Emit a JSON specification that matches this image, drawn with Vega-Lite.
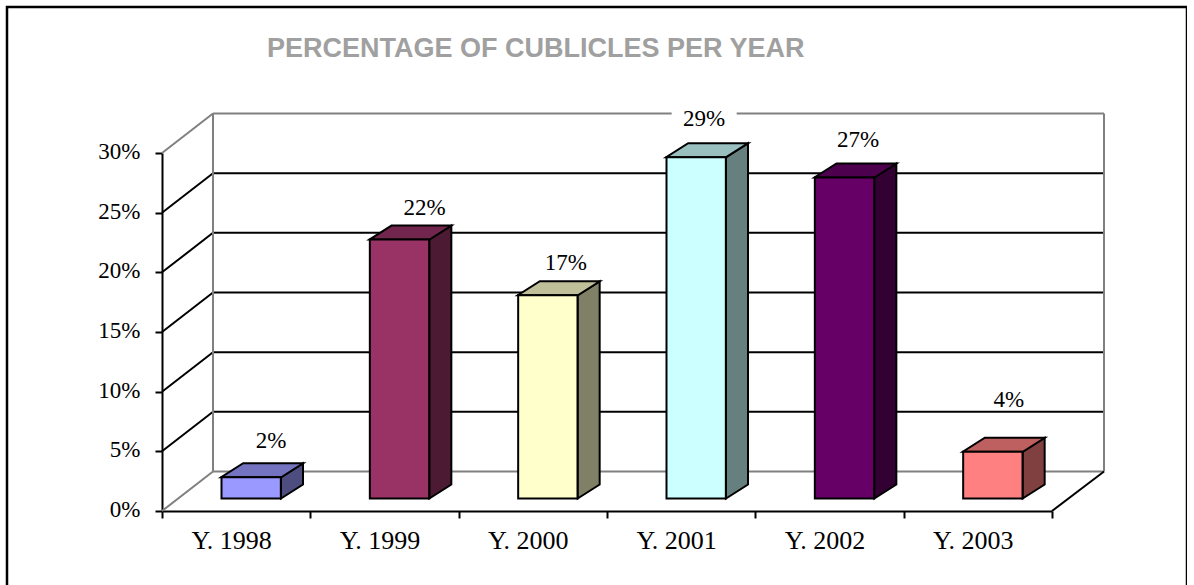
{
"$schema":"https://vega.github.io/schema/vega-lite/v6.json",
"width":1180,"height":580,
"autosize":{"type":"none"},
"padding":{"left":7,"top":7,"right":0,"bottom":0},
"background":"#ffffff",
"config":{"view":{"stroke":"#000000","strokeWidth":2.5},"font":"Liberation Serif"},
"title":{"text":"PERCENTAGE OF CUBLICLES PER YEAR","anchor":"start","frame":"group","dx":260,"offset":-69,"baseline":"middle","font":"Liberation Sans","fontSize":27,"fontWeight":"bold","color":"#A0A0A0"},
"datasets":{
"bars":[
{"year":"Y. 1998","share":0.0178,"label":0.02},
{"year":"Y. 1999","share":0.217,"label":0.22},
{"year":"Y. 2000","share":0.1703,"label":0.17},
{"year":"Y. 2001","share":0.286,"label":0.29},
{"year":"Y. 2002","share":0.269,"label":0.27},
{"year":"Y. 2003","share":0.0392,"label":0.04}],
"ticks":[{"tick":0},{"tick":0.05},{"tick":0.1},{"tick":0.15},{"tick":0.2},{"tick":0.25},{"tick":0.3}]
},
"resolve":{"scale":{"x":"independent","fill":"independent","xOffset":"independent"}},
"layer":[
{"data":{"name":"ticks"},
 "mark":{"type":"rule","strokeWidth":2,"yOffset":-39.5},
 "encoding":{
  "x":{"datum":0,"type":"quantitative","axis":null,"scale":{"domain":[0,1],"range":[206,1097]}},
  "x2":{"datum":1},
  "y":{"field":"tick","type":"quantitative","scale":{"domain":[0,0.3],"range":[504,146]},
   "axis":{"orient":"left","offset":-155,"title":null,"format":".0%","values":[0,0.05,0.1,0.15,0.2,0.25,0.3],"grid":false,"domainColor":"#000000","domainWidth":2,"tickColor":"#000000","tickWidth":2,"tickSize":7,"labelPadding":15,"labelOffset":-1.5,"labelFont":"Liberation Serif","labelFontSize":23,"labelColor":"#000000"}},
  "stroke":{"condition":{"test":"datum.tick===0||datum.tick===0.3","value":"#808080"},"value":"#000000"}
 }},
{"data":{"name":"ticks"},
 "mark":{"type":"rule","strokeWidth":2,"y2Offset":-39.5},
 "encoding":{
  "x":{"datum":0,"type":"quantitative","axis":null,"scale":{"domain":[0,1],"range":[155,206]}},
  "x2":{"datum":1},
  "y":{"field":"tick","type":"quantitative"},
  "y2":{"field":"tick"},
  "stroke":{"condition":{"test":"datum.tick===0||datum.tick===0.3","value":"#808080"},"value":"#000000"}
 }},
{"data":{"values":[{"wall":0},{"wall":1}]},
 "mark":{"type":"rule","strokeWidth":2,"stroke":"#808080","yOffset":-39.5,"y2Offset":-39.5},
 "encoding":{
  "x":{"field":"wall","type":"quantitative","axis":null,"scale":{"domain":[0,1],"range":[206,1097]}},
  "y":{"datum":0,"type":"quantitative"},
  "y2":{"datum":0.3}
 }},
{"data":{"values":[{"wall":0}]},
 "mark":{"type":"rule","strokeWidth":2,"stroke":"#000000","y2Offset":-39.5},
 "encoding":{
  "x":{"datum":0,"type":"quantitative","axis":null,"scale":{"domain":[0,1],"range":[1045,1097]}},
  "x2":{"datum":1},
  "y":{"datum":0,"type":"quantitative"},
  "y2":{"datum":0}
 }},
{"data":{"name":"bars"},
 "transform":[
  {"fold":["share","label"],"as":["edge","foldedValue"]},
  {"calculate":"datum.edge==='share'?0.0105:0.0222","as":"depth"},
  {"calculate":"datum.share+datum.depth","as":"sideTop"}
 ],
 "mark":{"type":"area","stroke":"#000000","strokeWidth":2,"line":false},
 "encoding":{
  "x":{"field":"year","type":"nominal","axis":null,"scale":{"type":"band","paddingInner":0,"paddingOuter":0,"range":[155,1045]}},
  "xOffset":{"field":"edge","type":"nominal","scale":{"type":"point","padding":0,"domain":["share","label"],"range":[119,141]}},
  "y":{"field":"sideTop","type":"quantitative","stack":null},
  "y2":{"field":"depth"},
  "detail":{"field":"year"},
  "fill":{"field":"year","type":"nominal","legend":null,"scale":{"range":["#4D4D80","#4D1A33","#808066","#668080","#330033","#804040"]}}
 }},
{"data":{"name":"bars"},
 "mark":{"type":"point","filled":true,"opacity":1,"size":4,"shape":"M-30,0L30,0L52,-14L-8,-14Z","stroke":"#000000","strokeWidth":2,"xOffset":15,"yOffset":-12.5},
 "encoding":{
  "x":{"field":"year","type":"nominal","axis":null,"scale":{"type":"band","paddingInner":0,"paddingOuter":0,"range":[155,1045]}},
  "y":{"field":"share","type":"quantitative"},
  "fill":{"field":"year","type":"nominal","legend":null,"scale":{"range":["#7373BF","#73264D","#BFBF99","#99BFBF","#4D004D","#BF6060"]}}
 }},
{"data":{"name":"bars"},
 "mark":{"type":"bar","stroke":"#000000","strokeWidth":2,"xOffset":15,"x2Offset":15,"yOffset":-12.5,"y2Offset":-12.5,"width":{"band":0.4}},
 "encoding":{
  "x":{"field":"year","type":"nominal","scale":{"type":"band","paddingInner":0,"paddingOuter":0,"range":[155,1045]},
   "axis":{"orient":"bottom","offset":-76,"title":null,"labelAngle":0,"tickBand":"extent","domainColor":"#000000","domainWidth":2,"tickColor":"#000000","tickWidth":2,"tickSize":7,"labelPadding":9,"labelOffset":-5,"labelFont":"Liberation Serif","labelFontSize":26,"labelColor":"#000000"}},
  "y":{"field":"share","type":"quantitative","stack":null},
  "y2":{"datum":0},
  "fill":{"field":"year","type":"nominal","legend":null,"scale":{"range":["#9999FF","#993366","#FFFFCC","#CCFFFF","#660066","#FF8080"]}}
 }},
{"data":{"name":"bars"},
 "transform":[{"filter":"datum.year==='Y. 2001'"}],
 "mark":{"type":"point","filled":true,"opacity":1,"size":4,"shape":"M-32.5,-8L32.5,-8L32.5,8L-32.5,8Z","fill":"#ffffff","stroke":null,"yOffset":-50.5,"xOffset":23},
 "encoding":{
  "x":{"field":"year","type":"nominal","axis":null,"scale":{"type":"band","domain":["Y. 1998","Y. 1999","Y. 2000","Y. 2001","Y. 2002","Y. 2003"],"paddingInner":0,"paddingOuter":0,"range":[155,1045]}},
  "y":{"field":"share","type":"quantitative"}
 }},
{"data":{"name":"bars"},
 "mark":{"type":"text","font":"Liberation Serif","fontSize":23,"fill":"#000000","baseline":"middle","align":"center",
  "dx":{"expr":"{'Y. 1998':35,'Y. 1999':40,'Y. 2000':33,'Y. 2001':23,'Y. 2002':28.5,'Y. 2003':31}[datum.year]"},
  "dy":{"expr":"{'Y. 1998':-49,'Y. 1999':-44.5,'Y. 2000':-44.5,'Y. 2001':-50.5,'Y. 2002':-49.5,'Y. 2003':-64.5}[datum.year]"}},
 "encoding":{
  "x":{"field":"year","type":"nominal","axis":null,"scale":{"type":"band","paddingInner":0,"paddingOuter":0,"range":[155,1045]}},
  "y":{"field":"share","type":"quantitative"},
  "text":{"field":"label","type":"quantitative","format":".0%"}
 }}
]
}
